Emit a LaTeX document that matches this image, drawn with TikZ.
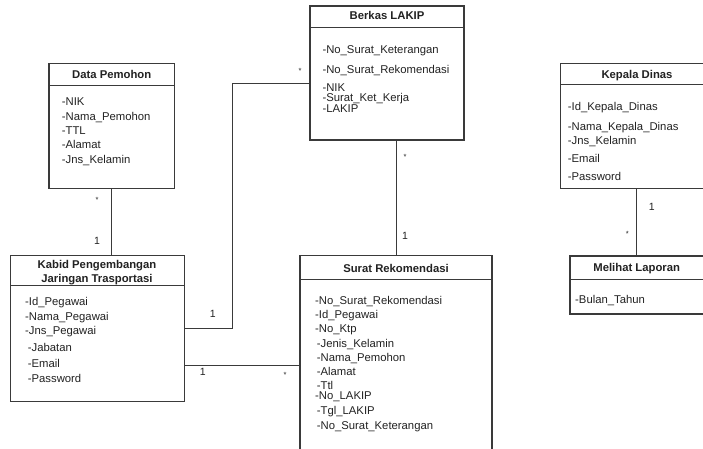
\documentclass[tikz,border=0pt]{standalone}
\usepackage{fontspec}
\setmainfont{Liberation Sans}
\definecolor{ink}{HTML}{222222}
\definecolor{edge}{HTML}{3A3A3A}
\begin{document}
\begin{tikzpicture}[x=1pt,y=-1pt,
  box/.style={draw=edge,line width=1.2pt,rectangle,inner sep=0pt,outer sep=0pt,anchor=north west},
  divider/.style={draw=edge,line width=1pt},
  conn/.style={draw=edge,line width=1pt},
  attr/.style={anchor=base west,inner sep=0pt,text=ink,font=\fontsize{11.3}{13}\selectfont},
  ttl/.style={anchor=base,inner sep=0pt,text=ink,font=\fontsize{11.3}{13}\selectfont\bfseries},
  mult/.style={anchor=center,inner sep=0pt,text=ink,font=\fontsize{10.5}{12}\selectfont},
  star/.style={anchor=center,inner sep=0pt,text=ink,font=\fontsize{7.5}{8}\selectfont}]
\useasboundingbox (0,0) rectangle (703,448);
\clip (0,0) rectangle (703,448);
\fill[white] (0,0) rectangle (703,448);

% ---- boxes ----
\node[box,minimum width=125.3pt,minimum height=125pt] (dp) at (49,63.3) {};
\node[box,minimum width=173.6pt,minimum height=145.6pt] (kb) at (10.7,255.7) {};
\node[box,minimum width=154pt,minimum height=134pt] (bl) at (310,6) {};
\node[box,minimum width=192pt,minimum height=220pt] (sr) at (300,255.7) {};
\node[box,minimum width=152.6pt,minimum height=125pt] (kd) at (560.7,63.3) {};
\node[box,minimum width=134pt,minimum height=58pt] (ml) at (570,256) {};

% ---- dividers ----
\draw[divider] ([yshift=-22pt]dp.north west) -- ([yshift=-22pt]dp.north east);
\draw[divider] ([yshift=-29.3pt]kb.north west) -- ([yshift=-29.3pt]kb.north east);
\draw[divider] ([yshift=-21.3pt]bl.north west) -- ([yshift=-21.3pt]bl.north east);
\draw[divider] ([yshift=-23.3pt]sr.north west) -- ([yshift=-23.3pt]sr.north east);
\draw[divider] ([yshift=-21pt]kd.north west) -- ([yshift=-21pt]kd.north east);
\draw[divider] ([yshift=-23.3pt]ml.north west) -- ([yshift=-23.3pt]ml.north east);

% ---- titles ----
\node[ttl] (dpt) at (111.7,78) {Data Pemohon};
\node[ttl] (kbt1) at (97,268) {Kabid Pengembangan};
\node[ttl] (kbt2) at (97,282.3) {Jaringan Trasportasi};
\node[ttl] (blt) at (387,19.5) {Berkas LAKIP};
\node[ttl] (srt) at (396,272.3) {Surat Rekomendasi};
\node[ttl] (kdt) at (637,78) {Kepala Dinas};
\node[ttl] (mlt) at (636.7,271.7) {Melihat Laporan};

% ---- attributes ----
\node[attr] (dp1) at (61.7,105.7) {-NIK};
\node[attr] (dp2) at (61.7,120) {-Nama\_Pemohon};
\node[attr] (dp3) at (61.7,134.3) {-TTL};
\node[attr] (dp4) at (61.7,148.8) {-Alamat};
\node[attr] (dp5) at (61.7,163.2) {-Jns\_Kelamin};

\node[attr] (kb1) at (25,305) {-Id\_Pegawai};
\node[attr] (kb2) at (25,320) {-Nama\_Pegawai};
\node[attr] (kb3) at (25,334.3) {-Jns\_Pegawai};
\node[attr] (kb4) at (27.7,351.3) {-Jabatan};
\node[attr] (kb5) at (27.7,367.7) {-Email};
\node[attr] (kb6) at (27.7,382.7) {-Password};

\node[attr] (bl1) at (322.3,53.3) {-No\_Surat\_Keterangan};
\node[attr] (bl2) at (322.3,73) {-No\_Surat\_Rekomendasi};
\node[attr] (bl3) at (322.3,91.7) {-NIK};
\node[attr] (bl4) at (322.3,101.7) {-Surat\_Ket\_Kerja};
\node[attr] (bl5) at (322.3,112) {-LAKIP};

\node[attr] (sr1) at (315,304) {-No\_Surat\_Rekomendasi};
\node[attr] (sr2) at (315,318) {-Id\_Pegawai};
\node[attr] (sr3) at (315,332.7) {-No\_Ktp};
\node[attr] (sr4) at (316.7,347) {-Jenis\_Kelamin};
\node[attr] (sr5) at (316.7,361.3) {-Nama\_Pemohon};
\node[attr] (sr6) at (316.7,375.7) {-Alamat};
\node[attr] (sr7) at (316.7,389.7) {-Ttl};
\node[attr] (sr8) at (315,399.7) {-No\_LAKIP};
\node[attr] (sr9) at (316.7,414) {-Tgl\_LAKIP};
\node[attr] (sr10) at (316.7,429.3) {-No\_Surat\_Keterangan};

\node[attr] (kd1) at (567.7,110) {-Id\_Kepala\_Dinas};
\node[attr] (kd2) at (567.7,130) {-Nama\_Kepala\_Dinas};
\node[attr] (kd3) at (567.7,144.7) {-Jns\_Kelamin};
\node[attr] (kd4) at (567.7,162.3) {-Email};
\node[attr] (kd5) at (567.7,180) {-Password};

\node[attr] (ml1) at (575,303.3) {-Bulan\_Tahun};

% ---- connectors ----
\coordinate (bend1) at (232.3,328.7);
\coordinate (bend2) at (232.3,83.3);
\draw[conn] (111.7,0 |- dp.south) -- (111.7,0 |- kb.north);
\draw[conn] (kb.east |- bend1) -- (bend1) -- (bend2) -- (bl.west |- bend2);
\draw[conn] (kb.east |- 0,365.3) -- (sr.west |- 0,365.3);
\draw[conn] (396.7,0 |- bl.south) -- (396.7,0 |- sr.north);
\draw[conn] (636.4,0 |- kd.south) -- (636.4,0 |- ml.north);

% ---- multiplicities ----
\node[star] (m1) at (97,200) {*};
\node[mult] (m2) at (97,241) {1};
\node[mult] (m3) at (212.7,314) {1};
\node[star] (m4) at (300,71) {*};
\node[mult] (m5) at (202.7,372) {1};
\node[star] (m6) at (285,375) {*};
\node[star] (m7) at (405,157) {*};
\node[mult] (m8) at (405,236) {1};
\node[mult] (m9) at (651.7,206.7) {1};
\node[star] (m10) at (627.3,234) {*};
\end{tikzpicture}
\end{document}
